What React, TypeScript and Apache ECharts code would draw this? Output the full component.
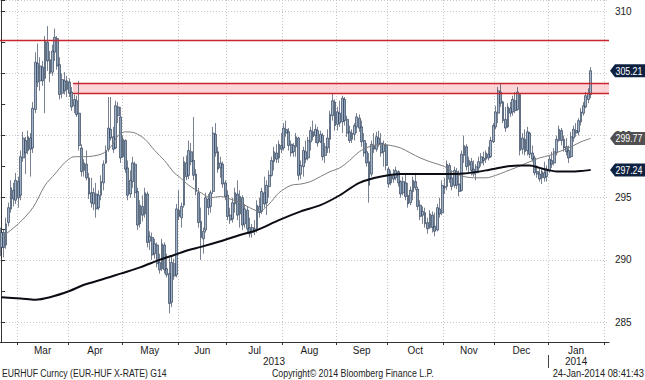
import React, { useEffect, useRef } from 'react';
import * as echarts from 'echarts';

// ---- data ----
const months = ['Mar', 'Apr', 'May', 'Jun', 'Jul', 'Aug', 'Sep', 'Oct', 'Nov', 'Dec', 'Jan'];
// trading-day index of the first day of each month (last entry = Feb 2014)
const monthStartIdx = [7, 28, 50, 73, 93, 116, 138, 159, 182, 203, 225, 248];
const years = ['2013', '2014'];
const yearStartIdx = 225; // first trading day of 2014
const yTicks = [285, 290, 295, 300, 305, 310];

// daily candles [open, close, low, high], 20-Feb-2013 .. 24-Jan-2014
const candles: number[][] = [
  [291.0, 292.2, 290.3, 292.6], [292.2, 291.0, 290.2, 292.5], [291.2, 292.9, 290.9, 293.4], [293.0, 294.2, 292.7, 294.6], [294.1, 295.8, 293.8, 296.4],
  [295.6, 294.9, 294.3, 296.2], [294.8, 296.4, 294.5, 297.0], [296.3, 295.0, 294.2, 296.7], [295.2, 298.3, 294.8, 298.8], [298.2, 299.8, 297.9, 300.3],
  [299.6, 298.6, 296.9, 299.9], [298.8, 299.9, 298.5, 300.4], [299.8, 298.9, 296.7, 300.2], [299.0, 302.2, 298.6, 302.7], [302.1, 305.9, 301.8, 306.7],
  [305.8, 304.3, 303.9, 307.4], [304.4, 305.6, 303.6, 306.3], [305.5, 304.4, 304.0, 306.0], [304.6, 307.6, 301.8, 308.0], [307.5, 306.0, 305.2, 308.8],
  [306.1, 305.0, 304.3, 306.8], [305.1, 306.8, 304.8, 307.3], [306.7, 307.9, 306.0, 308.6], [307.8, 305.6, 305.3, 308.0], [305.7, 303.3, 302.9, 306.3],
  [303.4, 304.5, 303.0, 305.0], [304.4, 303.6, 303.3, 305.1], [303.7, 304.4, 303.1, 304.8], [304.3, 303.4, 303.1, 304.6], [303.5, 302.3, 302.0, 303.9],
  [302.4, 302.9, 301.8, 303.3], [302.8, 301.7, 301.5, 303.2], [301.8, 299.2, 298.8, 304.4], [299.0, 297.1, 296.7, 299.3], [297.2, 297.8, 296.7, 298.1],
  [297.7, 296.6, 296.4, 298.8], [296.6, 295.3, 294.9, 297.0], [295.4, 294.6, 294.2, 296.6], [294.5, 295.4, 294.0, 295.8], [295.3, 294.1, 293.4, 296.2],
  [294.2, 295.2, 294.0, 295.6], [295.2, 296.3, 294.8, 296.8], [296.2, 297.7, 295.6, 298.0], [297.8, 298.8, 297.7, 299.2], [298.9, 300.6, 298.7, 303.1],
  [300.5, 299.8, 299.6, 303.1], [299.9, 298.9, 298.6, 300.7], [299.0, 302.4, 298.9, 302.8], [302.3, 301.6, 301.0, 302.7], [301.5, 298.2, 297.8, 302.3],
  [298.3, 299.7, 298.2, 300.0], [299.6, 297.3, 297.0, 299.7], [297.4, 295.2, 294.8, 298.0], [295.3, 296.4, 295.0, 297.2], [296.3, 297.8, 295.8, 298.3],
  [297.7, 295.4, 295.0, 297.9], [295.5, 292.8, 292.4, 295.8], [292.9, 294.4, 292.6, 294.8], [294.3, 293.6, 293.1, 295.2], [293.7, 295.4, 293.4, 295.8],
  [295.3, 291.4, 291.0, 295.5], [291.5, 291.9, 290.8, 292.3], [291.8, 290.4, 290.0, 292.2], [290.5, 291.3, 290.1, 291.7], [291.2, 289.7, 289.4, 291.4],
  [289.8, 289.2, 288.9, 290.5], [289.3, 291.3, 289.1, 291.7], [291.2, 289.2, 288.9, 291.4], [289.3, 288.8, 288.6, 290.5], [288.9, 286.5, 285.7, 290.2],
  [286.6, 289.8, 286.2, 290.3], [289.7, 288.7, 288.4, 290.1], [288.8, 294.1, 288.6, 294.5], [294.0, 293.5, 293.2, 295.6], [293.4, 294.3, 292.6, 294.6],
  [294.4, 297.9, 294.2, 298.3], [297.8, 296.7, 296.4, 298.4], [296.8, 298.8, 296.5, 299.6], [298.7, 297.9, 297.6, 299.4], [298.0, 296.8, 296.4, 301.5],
  [296.9, 295.5, 295.2, 297.3], [295.4, 293.0, 292.6, 295.8], [293.1, 291.8, 290.0, 294.2], [291.7, 292.3, 290.5, 292.6], [292.4, 295.0, 292.2, 295.4],
  [294.9, 294.2, 293.6, 295.3], [294.3, 295.4, 293.8, 295.6], [295.5, 300.2, 295.3, 300.7], [300.1, 298.6, 298.3, 301.0], [298.7, 297.3, 297.0, 299.1],
  [297.4, 297.8, 296.6, 298.3], [297.7, 296.1, 295.8, 297.9], [296.2, 295.1, 294.8, 296.4], [295.2, 293.5, 293.2, 295.6], [293.6, 293.2, 292.9, 294.2],
  [293.3, 294.6, 293.0, 295.0], [294.5, 295.4, 293.8, 295.8], [295.3, 293.6, 293.2, 296.4], [293.7, 295.1, 292.6, 295.6], [295.0, 292.8, 292.4, 295.2],
  [292.9, 294.1, 292.6, 294.5], [294.0, 292.5, 292.2, 294.3], [292.6, 292.1, 291.8, 293.4], [292.2, 292.6, 291.8, 292.9], [292.5, 292.3, 292.0, 293.2],
  [292.4, 294.4, 292.2, 294.8], [294.3, 293.8, 293.4, 295.0], [293.9, 295.5, 293.7, 295.8], [295.4, 294.5, 294.2, 296.7], [294.6, 296.0, 293.6, 296.4],
  [295.9, 296.8, 295.0, 297.2], [296.8, 298.0, 296.7, 298.3], [297.9, 298.7, 297.2, 299.1], [298.6, 298.1, 297.8, 299.3], [298.2, 299.3, 297.8, 299.6],
  [299.2, 298.9, 298.6, 300.2], [299.0, 300.6, 298.8, 301.0], [300.5, 300.2, 299.9, 301.2], [300.3, 299.2, 298.8, 300.6], [299.3, 298.6, 298.3, 299.6],
  [298.7, 299.2, 298.3, 299.4], [299.1, 299.9, 298.3, 300.2], [299.8, 296.8, 296.4, 299.9], [296.9, 297.6, 296.5, 298.0], [297.5, 298.8, 296.7, 299.1],
  [298.7, 298.1, 297.8, 299.6], [298.2, 299.6, 298.0, 299.9], [299.5, 300.4, 298.8, 300.7], [300.3, 299.9, 299.6, 301.2], [300.0, 300.5, 299.4, 300.9],
  [300.4, 299.4, 299.1, 300.7], [299.5, 300.1, 299.4, 300.4], [300.0, 298.3, 298.0, 300.2], [298.4, 299.1, 297.8, 299.4], [299.0, 299.8, 298.6, 300.5],
  [299.7, 301.7, 298.6, 302.0], [301.6, 302.8, 301.2, 303.4], [302.7, 300.8, 300.4, 302.9], [300.9, 301.9, 300.4, 302.3], [301.8, 301.0, 300.7, 302.8],
  [301.1, 303.0, 300.2, 303.2], [302.9, 301.2, 300.8, 303.1], [301.3, 300.2, 299.9, 301.6], [300.3, 299.6, 299.4, 300.8], [299.7, 300.2, 299.4, 300.5],
  [300.1, 300.8, 299.6, 301.0], [300.7, 301.5, 300.2, 301.8], [301.4, 300.6, 300.3, 301.7], [300.7, 299.5, 299.1, 301.2], [299.6, 298.6, 298.3, 300.2],
  [298.7, 297.8, 297.5, 299.4], [297.9, 296.0, 294.6, 298.6], [296.9, 299.3, 296.7, 299.6], [299.2, 298.9, 298.6, 300.2], [298.9, 299.9, 298.7, 300.3],
  [299.8, 299.3, 299.1, 300.4], [299.4, 298.6, 298.3, 300.2], [298.7, 299.3, 297.5, 299.6], [299.2, 297.6, 297.2, 299.4], [297.3, 296.1, 295.8, 297.5],
  [296.2, 296.9, 296.0, 297.2], [296.8, 296.5, 296.2, 297.3], [296.6, 297.2, 296.4, 297.5], [297.1, 296.2, 295.9, 297.2], [296.3, 295.3, 295.0, 296.4],
  [295.4, 296.3, 295.2, 296.7], [296.2, 295.1, 294.8, 297.0], [295.2, 294.5, 294.2, 296.2], [294.6, 295.6, 294.4, 295.9], [295.5, 296.4, 294.8, 296.7],
  [296.3, 295.8, 295.6, 297.0], [295.7, 294.3, 294.0, 295.9], [294.4, 293.5, 293.2, 294.8], [293.6, 293.9, 292.9, 294.3], [293.8, 292.9, 292.6, 294.2],
  [293.0, 292.5, 292.1, 293.4], [292.6, 293.7, 292.5, 294.0], [293.6, 292.6, 292.2, 293.9], [292.7, 292.3, 291.9, 293.8], [292.4, 294.2, 292.3, 294.5],
  [294.1, 293.7, 293.4, 295.0], [293.8, 296.0, 293.6, 296.4], [295.9, 295.8, 295.3, 296.6], [295.9, 297.7, 295.6, 298.0], [297.6, 296.5, 296.2, 297.8],
  [296.6, 295.9, 295.6, 297.2], [296.0, 297.2, 295.8, 297.5], [297.1, 296.0, 295.7, 297.4], [296.1, 295.5, 295.1, 297.2], [295.6, 298.5, 295.5, 298.8],
  [298.4, 299.2, 297.8, 300.0], [299.1, 297.5, 297.2, 299.3], [297.6, 298.0, 296.9, 298.3], [297.9, 297.2, 296.8, 298.2], [297.3, 296.9, 296.7, 298.0],
  [297.0, 297.5, 296.4, 297.7], [297.4, 297.9, 297.0, 298.3], [297.8, 298.3, 297.5, 298.6], [298.2, 298.0, 297.6, 298.7], [298.1, 298.6, 297.8, 298.8],
  [298.5, 298.2, 298.0, 299.1], [298.3, 299.6, 298.2, 299.9], [299.5, 300.8, 299.4, 301.0], [300.7, 301.9, 300.5, 302.4], [301.8, 303.6, 301.0, 303.9],
  [303.5, 302.6, 302.3, 304.2], [302.7, 301.2, 301.0, 302.8], [301.3, 300.6, 300.3, 302.3], [300.7, 302.3, 300.6, 302.6], [302.2, 301.8, 301.5, 302.7],
  [301.9, 302.9, 301.6, 303.2], [302.8, 302.0, 301.8, 303.5], [302.1, 303.5, 302.0, 303.9], [303.3, 298.8, 298.4, 303.4], [298.9, 299.8, 298.5, 300.2],
  [299.7, 298.7, 298.4, 300.5], [298.8, 300.3, 298.4, 300.7], [300.2, 298.5, 298.2, 300.3], [298.6, 298.1, 297.9, 299.2], [298.2, 297.0, 296.8, 298.4],
  [297.1, 296.9, 296.6, 297.6], [296.9, 296.5, 296.3, 297.4], [296.6, 297.1, 296.1, 297.4], [297.0, 296.6, 296.3, 297.9], [296.7, 297.3, 296.3, 297.6],
  [297.2, 298.1, 297.0, 298.4], [298.0, 297.7, 297.4, 298.7], [297.8, 298.7, 297.6, 299.0], [298.6, 299.7, 298.4, 300.0], [299.6, 300.5, 299.5, 300.8],
  [300.4, 299.6, 299.2, 300.6], [299.7, 299.0, 298.7, 300.0], [299.1, 298.7, 298.4, 299.8], [298.8, 298.2, 297.8, 299.2], [298.3, 299.9, 298.2, 300.3],
  [299.8, 300.5, 299.5, 300.8], [300.4, 300.2, 299.9, 301.0], [300.3, 301.2, 300.0, 301.4], [301.1, 301.9, 300.8, 302.2], [301.8, 302.4, 301.6, 302.7],
  [302.3, 303.2, 302.2, 303.5], [302.9, 303.4, 302.6, 303.8], [303.3, 305.21, 303.0, 305.5],
];

// 50-day moving average (thin grey) read at [day index, value]
const maFast: number[][] = [
  [0, 291.8], [7, 292.9], [13, 294.2], [18, 296.0], [22, 296.9], [26, 297.8], [30, 298.3], [34, 298.3], [41, 298.5],
  [45, 299.1], [48, 300.0], [51, 300.3], [55, 300.2], [59, 299.7], [63, 298.8], [67, 298.0], [71, 297.0], [73, 296.7],
  [77, 296.0], [82, 295.4], [86, 295.0], [90, 295.1], [94, 294.9], [98, 294.6], [102, 294.2], [106, 293.9], [110, 294.5],
  [114, 295.4], [119, 296.0], [123, 296.1], [127, 296.3], [131, 296.7], [135, 297.1], [139, 297.4], [143, 298.0],
  [147, 298.7], [151, 299.1], [156, 299.3], [160, 299.2], [164, 299.0], [168, 298.6], [172, 298.2], [176, 297.9],
  [182, 297.5], [186, 297.0], [190, 296.7], [195, 296.6], [199, 296.6], [203, 296.8], [207, 297.1], [211, 297.4],
  [217, 297.9], [221, 298.2], [225, 298.4], [229, 298.7], [234, 299.1], [238, 299.5], [242, 299.77],
];

// 200-day moving average (thick black)
const maSlow: number[][] = [
  [0, 287.0], [8, 286.9], [14, 286.8], [20, 287.0], [28, 287.5], [34, 288.0], [41, 288.4], [49, 288.9], [57, 289.4],
  [65, 290.0], [71, 290.4], [77, 290.8], [82, 291.05], [90, 291.5], [98, 292.0], [105, 292.4], [114, 293.2], [123, 293.9],
  [131, 294.4], [139, 295.2], [147, 296.2], [156, 296.7], [164, 296.9], [172, 296.9], [182, 296.9], [190, 296.95],
  [199, 297.2], [207, 297.5], [213, 297.6], [217, 297.6], [221, 297.4], [225, 297.2], [229, 297.1], [234, 297.1],
  [238, 297.15], [242, 297.24],
];

const resistanceLine = 307.65;
const bandTop = 304.2;
const bandBottom = 303.38;
const bandStartIdx = 29.5;

const FONT = '"Liberation Sans", Arial, sans-serif';

export default function App() {
  const ref = useRef<HTMLDivElement>(null);
  useEffect(() => {
    const el = ref.current!;
    const chart = echarts.init(el, undefined, { renderer: 'svg' });
    const xMin = -0.5;
    const xMax = 249.5;
    const tickVals = monthStartIdx.map((v) => v - 0.5);
    const labelVals = months.map((_, k) => (tickVals[k] + tickVals[k + 1]) / 2);
    const yearBoundary = yearStartIdx - 0.5;
    const yearCenters = [(xMin + yearBoundary) / 2, (yearBoundary + tickVals[tickVals.length - 1]) / 2];
    const candleData = candles.map((c, i) => [i, c[0], c[1], c[2], c[3]]);
    const last = candles.length - 1;

    const option: any = {
      animation: false,
      backgroundColor: '#ffffff',
      grid: { left: 0, right: 36, top: 0, bottom: 38 },
      xAxis: [
        {
          type: 'value',
          min: xMin,
          max: xMax,
          position: 'bottom',
          axisLine: { show: true, lineStyle: { color: '#333', width: 1 } },
          axisTick: { show: true, customValues: tickVals, length: 3, lineStyle: { color: '#333' } },
          axisLabel: {
            customValues: labelVals,
            margin: 3,
            fontSize: 10,
            lineHeight: 11,
            fontFamily: FONT,
            color: '#1a1a1a',
            formatter: (v: number) => {
              const k = labelVals.findIndex((x) => Math.abs(x - v) < 0.01);
              return k >= 0 ? months[k] : '';
            },
          },
          splitLine: { show: true, lineStyle: { color: '#c8c8c8', type: [1, 2], width: 1 } },
        },
        {
          type: 'value',
          min: xMin,
          max: xMax,
          position: 'bottom',
          offset: 13,
          axisLine: { show: false },
          axisTick: { show: true, customValues: [yearBoundary], length: 13, lineStyle: { color: '#444' } },
          axisLabel: {
            customValues: yearCenters,
            margin: 1,
            fontSize: 10,
            lineHeight: 11,
            fontFamily: FONT,
            color: '#1a1a1a',
            formatter: (v: number) => (v < yearBoundary ? years[0] : years[1]),
          },
          splitLine: { show: false },
        },
      ],
      yAxis: {
        type: 'value',
        position: 'right',
        min: 283.4,
        max: 310.9,
        splitNumber: 5,
        axisLine: { show: true, lineStyle: { color: '#333', width: 1 } },
        axisTick: { show: true, inside: false, length: 4, lineStyle: { color: '#333' } },
        minorTick: { show: true, splitNumber: 2, length: 4, lineStyle: { color: '#333' } },
        axisLabel: {
          margin: 6,
          fontSize: 10,
          fontFamily: FONT,
          color: '#1a1a1a',
          showMinLabel: false,
          showMaxLabel: false,
          formatter: (v: number) => (yTicks.indexOf(v) >= 0 ? String(v) : ''),
        },
        splitLine: { show: true, lineStyle: { color: '#c8c8c8', type: [1, 2], width: 1 } },
      },
      series: [
        {
          type: 'line',
          data: [],
          z: 1,
          silent: true,
          markArea: {
            silent: true,
            itemStyle: { color: 'rgba(247, 178, 183, 0.55)' },
            data: [[{ xAxis: bandStartIdx, yAxis: bandTop }, { xAxis: xMax, yAxis: bandBottom }]],
          },
          markLine: {
            silent: true,
            symbol: 'none',
            label: { show: false },
            lineStyle: { color: '#c9252d', width: 1.3, type: 'solid' },
            data: [
              { yAxis: resistanceLine },
              [{ coord: [bandStartIdx, bandTop] }, { coord: [xMax, bandTop] }],
              [{ coord: [bandStartIdx, bandBottom] }, { coord: [xMax, bandBottom] }],
            ],
          },
        },
        {
          type: 'candlestick',
          data: candleData,
          z: 3,
          barWidth: 2.3,
          itemStyle: {
            color: '#a3b3c9',
            color0: '#8c9fb8',
            borderColor: '#1d2d48',
            borderColor0: '#1d2d48',
            borderWidth: 0.6,
          },
        },
        {
          type: 'line',
          data: maFast,
          z: 4,
          showSymbol: false,
          smooth: 0.3,
          lineStyle: { color: '#7d7d7d', width: 1 },
        },
        {
          type: 'line',
          data: maSlow,
          z: 5,
          showSymbol: false,
          smooth: 0.3,
          lineStyle: { color: '#0c0c14', width: 2 },
        },
      ],
    };
    chart.setOption(option);

    const tags = [
      { v: candles[last][1], bg: '#0f2140' },
      { v: maFast[maFast.length - 1][1], bg: '#505050' },
      { v: maSlow[maSlow.length - 1][1], bg: '#0f2140' },
    ];
    const ax = 609;
    const graphics: any[] = [];
    tags.forEach((t) => {
      const y = chart.convertToPixel({ yAxisIndex: 0 }, t.v) as number;
      graphics.push({
        type: 'polygon',
        shape: { points: [[ax + 1, y], [ax + 6, y - 6.5], [645, y - 6.5], [645, y + 6.5], [ax + 6, y + 6.5]] },
        style: { fill: t.bg },
        z: 10,
      });
      graphics.push({
        type: 'text',
        x: ax + 6.5,
        y: y,
        scaleX: 0.8,
        style: { text: t.v.toFixed(2), fill: '#ffffff', font: `11px ${FONT}`, verticalAlign: 'middle', align: 'left' },
        z: 11,
      });
    });
    const footFont = `11px ${FONT}`;
    graphics.push(
      { type: 'text', x: 2, y: 373, scaleX: 0.785, style: { text: 'EURHUF Curncy (EUR-HUF X-RATE) G14', fill: '#222', font: footFont, verticalAlign: 'middle' } },
      { type: 'text', x: 272, y: 373, scaleX: 0.8, style: { text: 'Copyright\u00a9 2014 Bloomberg Finance L.P.', fill: '#222', font: footFont, verticalAlign: 'middle' } },
      { type: 'text', x: 644, y: 373, scaleX: 0.85, style: { text: '24-Jan-2014 08:41:43', fill: '#222', font: footFont, verticalAlign: 'middle', align: 'right' } }
    );
    chart.setOption({ graphic: graphics });

    return () => chart.dispose();
  }, []);
  return (
    <div
      ref={ref}
      style={{ position: 'fixed', left: 0, top: 0, width: 645, height: 380, background: '#fff' }}
    />
  );
}
